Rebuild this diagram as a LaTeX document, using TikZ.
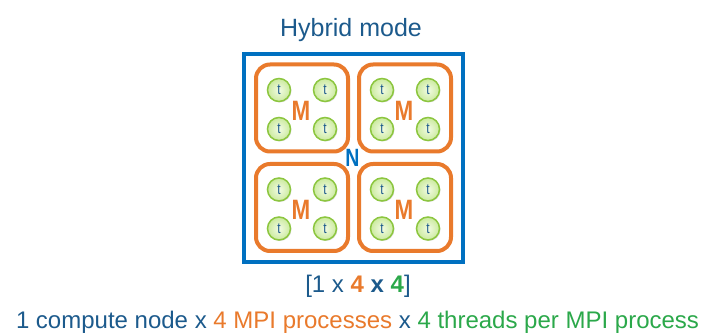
\documentclass[tikz,border=0pt]{standalone}
\usepackage{fontspec}
\setmainfont{Liberation Sans}
\usetikzlibrary{shadows}

\definecolor{nodeblue}{HTML}{0070C0}
\definecolor{textblue}{HTML}{1C5A8C}
\definecolor{mpiorange}{HTML}{E97A2C}
\definecolor{thrgreen}{HTML}{2BA84A}
\definecolor{ringgreen}{HTML}{8CC63F}
\definecolor{fillin}{HTML}{F2FBE4}
\definecolor{fillout}{HTML}{CBEA9E}

\tikzset{
  nodebox/.style={draw=nodeblue, line width=4pt, minimum width=219pt, minimum height=208pt, inner sep=0pt},
  mpibox/.style={draw=mpiorange, line width=4pt, rounded corners=14pt, minimum width=92pt, minimum height=87pt, inner sep=0pt},
  mlabel/.style={text=mpiorange, font=\fontsize{28}{30}\selectfont\bfseries, inner sep=0pt, xscale=0.8},
  nlabel/.style={text=nodeblue, font=\fontsize{25}{27}\selectfont\bfseries, inner sep=0pt, xscale=0.78},
  thread/.style={circle, draw=ringgreen, line width=1.5pt, minimum size=23pt, inner sep=0pt,
    inner color=fillin, outer color=fillout,
    drop shadow={shadow xshift=1pt, shadow yshift=-1pt, opacity=0.25}},
  tlabel/.style={text=textblue, font=\fontsize{15}{15}\selectfont, inner sep=0pt, xscale=0.8},
  bigtext/.style={anchor=base, inner sep=0pt, font=\fontsize{24}{28}\selectfont},
}

\begin{document}
\begin{tikzpicture}[x=1pt, y=-1pt]
\useasboundingbox (0,0) rectangle (707,336);

% title
\node[bigtext, text=textblue, font=\fontsize{25}{28}\selectfont] (title) at (351,37) {Hybrid mode};

% compute node
\node[nodebox] (cnode) at (353.5,158) {};
\node[nlabel] (nmark) at (352.5,158) {N};

% MPI processes with their threads
\foreach \name/\cx/\cy in {mtl/302/108, mtr/405/108, mbl/302/207.5, mbr/405/207.5} {
  \node[mpibox] (\name) at (\cx,\cy) {};
  \node[mlabel] (\name-m) at (\cx-1,\cy+2.5) {M};
  \foreach \k/\dx/\dy in {1/-23/-18, 2/23/-18, 3/-23/21, 4/23/21} {
    \node[thread] (\name-t\k) at (\cx+\dx,\cy+\dy) {};
    \node[tlabel] (\name-l\k) at (\name-t\k.center) {t};
  }
}

% formula and description
\node[bigtext, text=textblue] (formula) at (358,293)
  {[1 x \textbf{\textcolor{mpiorange}{4}} \textbf{x} \textbf{\textcolor{thrgreen}{4}}]};
\node[bigtext, text=textblue] (desc) at (357.5,329)
  {1 compute node x \textcolor{mpiorange}{4 MPI processes} x \textcolor{thrgreen}{4 threads per MPI process}};
\end{tikzpicture}
\end{document}
